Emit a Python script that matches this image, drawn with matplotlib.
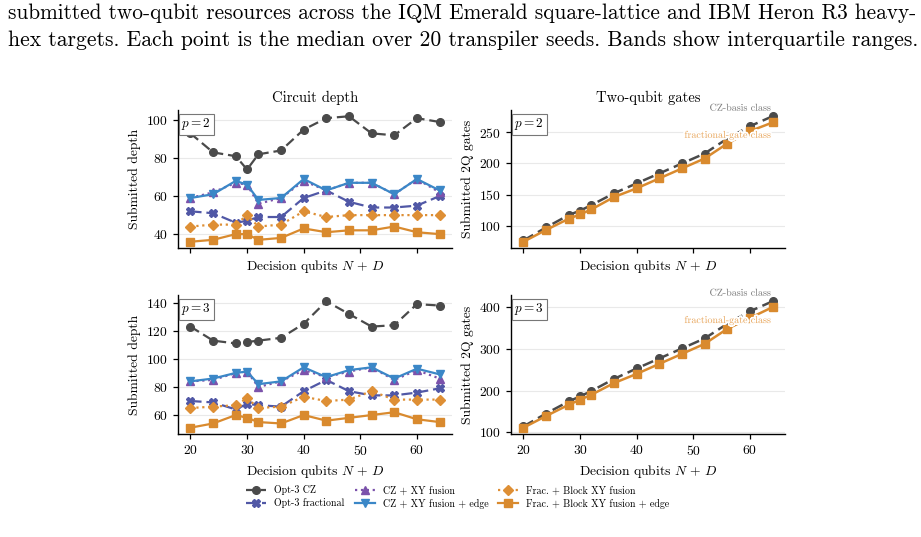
import numpy as np
import matplotlib.pyplot as plt
import matplotlib.patheffects as pe

plt.rcParams['font.family'] = ['cmr10', 'DejaVu Serif']
plt.rcParams['mathtext.fontset'] = 'cm'
plt.rcParams['axes.formatter.use_mathtext'] = True

# decision qubits N + D
qubits = [20, 24, 28, 30, 32, 36, 40, 44, 48, 52, 56, 60, 64]

# submitted depth, p = 2
depth_p2 = {
    "Opt-3 CZ": [93, 83, 81, 74, 82, 84, 95, 101, 102, 93, 92, 101, 99],
    "Opt-3 fractional": [52, 51, 46, 47, 49, 49, 59, 63, 57, 54, 54, 55, 60],
    "CZ + XY fusion": [59, 62, 67, 66, 56, 59, 68, 63, 67, 67, 61, 69, 62],
    "CZ + XY fusion + edge": [59, 61, 68, 66, 58, 59, 69, 63, 67, 67, 61, 69, 63],
    "Frac. + Block XY fusion": [44, 45, 45, 50, 44, 45, 52, 49, 50, 50, 50, 50, 50],
    "Frac. + Block XY fusion + edge": [36, 37, 40, 40, 37, 38, 43, 41, 42, 42, 44, 41, 40],
}

# submitted depth, p = 3
depth_p3 = {
    "Opt-3 CZ": [123, 113, 111, 112, 113, 115, 125, 141, 132, 123, 124, 139, 138],
    "Opt-3 fractional": [70, 69, 64, 68, 67, 66, 77, 85, 77, 74, 74, 76, 79],
    "CZ + XY fusion": [84, 85, 90, 91, 80, 84, 92, 87, 91, 94, 85, 92, 86],
    "CZ + XY fusion + edge": [84, 86, 90, 91, 82, 84, 94, 87, 92, 94, 86, 93, 89],
    "Frac. + Block XY fusion": [65, 66, 67, 72, 65, 66, 73, 70, 71, 77, 71, 71, 71],
    "Frac. + Block XY fusion + edge": [51, 54, 60, 58, 55, 54, 60, 56, 58, 60, 62, 57, 55],
}

# submitted two-qubit gates
cz_2q_p2 = [76, 97, 117, 124, 133, 152, 168, 184, 200, 216, 240, 260, 276]
frac_2q_p2 = [74, 93, 111, 118, 126, 146, 160, 176, 192, 208, 232, 252, 266]
cz_2q_p3 = [114, 145, 174, 186, 199, 228, 253, 277, 301, 325, 360, 390, 414]
frac_2q_p3 = [111, 139, 166, 178, 190, 218, 240, 264, 288, 312, 348, 374, 400]

styles = {
    "Opt-3 CZ": dict(color="#4a4a4a", marker="o", dashes=(4.5, 2.2)),
    "Opt-3 fractional": dict(color="#5158a6", marker="X", dashes=(5, 2.2)),
    "CZ + XY fusion": dict(color="#7b52ab", marker="^", ls=":"),
    "CZ + XY fusion + edge": dict(color="#3b87c7", marker="v", ls="-"),
    "Frac. + Block XY fusion": dict(color="#de8f35", marker="D", ls=":"),
    "Frac. + Block XY fusion + edge": dict(color="#d98a2e", marker="s", ls="-"),
}

fig = plt.figure(figsize=(9.21, 5.37), dpi=100)

W, H = 921, 537
def box(x0, y0, x1, y1):
    return [x0 / W, 1 - y1 / H, (x1 - x0) / W, (y1 - y0) / H]

ax_d2 = fig.add_axes(box(178, 110, 452, 248))
ax_g2 = fig.add_axes(box(511, 110, 785, 248))
ax_d3 = fig.add_axes(box(178, 295, 452, 434))
ax_g3 = fig.add_axes(box(511, 295, 785, 434))

fs = 9.8


def style_axes(ax, ylabel, ptxt, show_xt):
    for s in ["top", "right"]:
        ax.spines[s].set_visible(False)
    ax.spines["left"].set_linewidth(1.0)
    ax.spines["bottom"].set_linewidth(1.0)
    ax.yaxis.grid(True, color="#e9e9e9", lw=0.8)
    ax.set_axisbelow(True)
    ax.tick_params(labelsize=fs, length=3.5, width=0.9)
    ax.set_xticks([20, 30, 40, 50, 60])
    if not show_xt:
        ax.tick_params(labelbottom=False)
    ax.set_xlabel(r"Decision qubits $N\, +\, D$", fontsize=fs, labelpad=4)
    ax.set_ylabel(ylabel, fontsize=fs, labelpad=4)
    ax.text(0.012, 0.955, ptxt, transform=ax.transAxes, fontsize=9.5,
            ha="left", va="top",
            bbox=dict(boxstyle="square,pad=0.2", fc="white", ec="#777777", lw=0.8))


for ax, data in [(ax_d2, depth_p2), (ax_d3, depth_p3)]:
    for name, vals in data.items():
        st = styles[name]
        ax.plot(qubits, vals, label=name, lw=1.6, ms=5.5, **st)

for ax, cz, fr in [(ax_g2, cz_2q_p2, frac_2q_p2), (ax_g3, cz_2q_p3, frac_2q_p3)]:
    ax.plot(qubits, cz, lw=1.8, ms=5.5, **styles["Opt-3 CZ"])
    ax.plot(qubits, fr, lw=1.8, ms=5.5, **styles["Frac. + Block XY fusion + edge"])
    halo = [pe.withStroke(linewidth=2.5, foreground="white")]
    ax.text(0.95, 1.015, "CZ-basis class", transform=ax.transAxes, fontsize=7.2,
            color="#777777", ha="right", va="center", path_effects=halo, zorder=5)
    ax.text(0.95, 0.82, "fractional-gate class", transform=ax.transAxes, fontsize=7.2,
            color="#e8a55a", ha="right", va="center", path_effects=halo, zorder=5)

style_axes(ax_d2, "Submitted depth", "$p=2$", False)
style_axes(ax_d3, "Submitted depth", "$p=3$", True)
style_axes(ax_g2, "Submitted 2Q gates", "$p=2$", False)
style_axes(ax_g3, "Submitted 2Q gates", "$p=3$", True)

ax_d2.set_yticks([40, 60, 80, 100])
ax_d3.set_yticks([60, 80, 100, 120, 140])
ax_g2.set_yticks([100, 150, 200, 250])
ax_g3.set_yticks([100, 200, 300, 400])

ax_d2.set_title("Circuit depth", fontsize=10.5, pad=6)
ax_g2.set_title("Two-qubit gates", fontsize=10.5, pad=6)

handles, labels = ax_d2.get_legend_handles_labels()
fig.legend(handles, labels, loc="center", bbox_to_anchor=(458 / W, 1 - 497 / H),
           ncol=3, frameon=False, fontsize=7.2, handlelength=2.0,
           columnspacing=1.0, labelspacing=0.3, handletextpad=0.8)

# caption lines around the figure
cap1 = ("submitted two-qubit resources across the IQM Emerald square-lattice "
        "and IBM Heron R3 heavy-")
cap2 = ("hex targets. Each point is the median over 20 transpiler seeds. "
        "Bands show interquartile ranges.")
renderer = fig.canvas.get_renderer()
for txt, yc in [(cap1, 13), (cap2, 40)]:
    t = fig.text(8 / W, 1 - yc / H, txt, fontsize=14, ha="left", va="center")
    w = t.get_window_extent(renderer).width
    t.set_fontsize(14 * 905 / w)

fig.savefig("out.png", dpi=100)
